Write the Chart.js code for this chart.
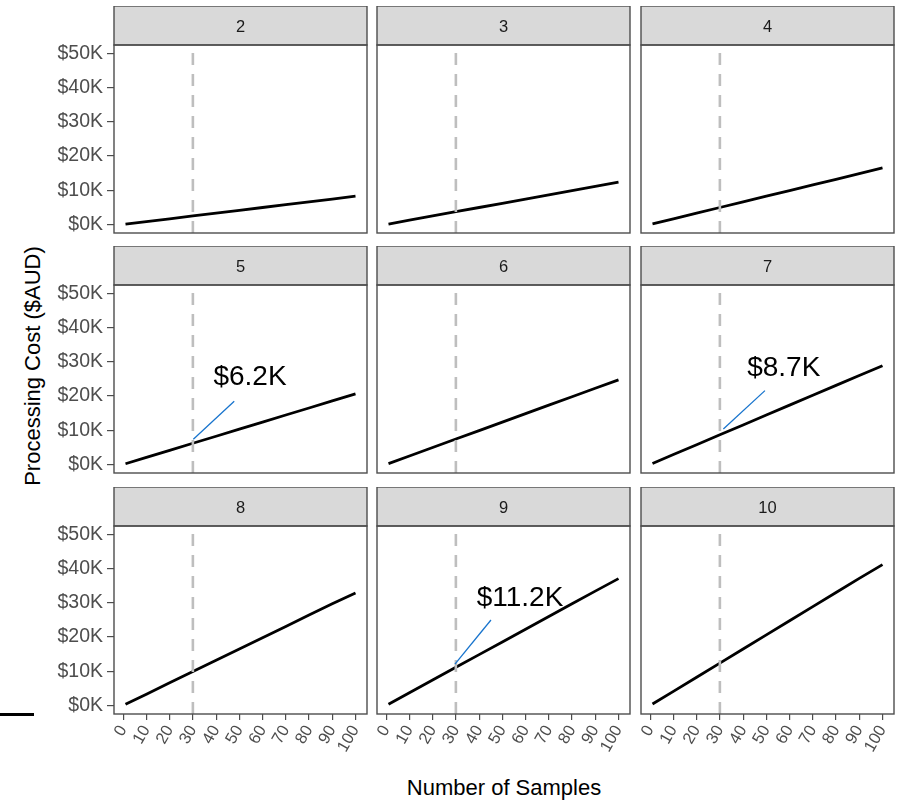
<!DOCTYPE html>
<html><head><meta charset="utf-8">
<script src="https://cdn.jsdelivr.net/npm/chart.js@4"></script>
<style>
html,body{margin:0;padding:0;background:#fff;}
#wrap{position:relative;width:907px;height:801px;overflow:hidden;background:#fff;}
#wrap canvas{position:absolute;}
.t{position:absolute;font-family:"Liberation Sans",Arial,sans-serif;color:#000;white-space:nowrap;line-height:1;}
</style></head><body><div id="wrap">
<div class="t" style="left:33px;top:366px;font-size:22px;transform:translate(-50%,-50%) rotate(-90deg);">Processing Cost ($AUD)</div>
<div class="t" style="left:504px;top:788px;font-size:22px;transform:translate(-50%,-50%);">Number of Samples</div>
<div style="position:absolute;left:0;top:713px;width:34px;height:2.5px;background:#000;"></div>
</div>
<script>
// ---- data ----
const panelNames = ['2','3','4','5','6','7','8','9','10'];
const sampleX = [1, 10, 20, 30, 40, 50, 60, 70, 80, 90, 100];
const cost2  = [  90,  830, 1650, 2480, 3300, 4130, 4960, 5780, 6610, 7430, 8300];
const cost3  = [ 130, 1240, 2480, 3720, 4960, 6200, 7430, 8670, 9910,11150,12400];
const cost4  = [ 170, 1650, 3300, 4960, 6610, 8260, 9910,11560,13220,14870,16550];
const cost5  = [ 210, 2070, 4130, 6200, 8260,10330,12390,14460,16520,18590,20650];
const cost6  = [ 250, 2480, 4960, 7430, 9910,12390,14870,17350,19820,22300,24750];
const cost7  = [ 290, 2890, 5780, 8700,11560,14460,17350,20240,23130,26020,28900];
const cost8  = [ 330, 3300, 6610, 9910,13220,16520,19820,23130,26430,29740,32900];
const cost9  = [ 370, 3720, 7430,11200,14870,18590,22300,26020,29740,33450,37100];
const cost10 = [ 410, 4130, 8260,12390,16520,20650,24780,28910,33040,37170,41200];
const costSeries = [cost2, cost3, cost4, cost5, cost6, cost7, cost8, cost9, cost10];
const xTicks = [0, 10, 20, 30, 40, 50, 60, 70, 80, 90, 100];
const xTickLabels = ['0','10','20','30','40','50','60','70','80','90','100'];
const yTicks = [0, 10000, 20000, 30000, 40000, 50000];
const yTickLabels = ['$0K','$10K','$20K','$30K','$40K','$50K'];
const cutoffX = 30;
// repel-style annotations (panel, label, label position, leader segment)
const annotPanel = ['5', '7', '9'];
const annotText  = ['$6.2K', '$8.7K', '$11.2K'];
const annotTextX = [54.6, 57.5, 57.6];
const annotTextY = [26300, 28900, 32000];
const segFromX = [30.2, 31.5, 29.6];
const segFromY = [7400, 10400, 12100];
const segToX   = [47.8, 49.4, 45.1];
const segToY   = [18500, 21600, 25000];

// ---- layout ----
const STRIP_H = 39, PLOT_H = 188, PLOT_W = 253;
const colLeft = [114, 377, 641];
const rowTop = [6, 246, 487];
const Y_AXIS_W = 114, X_AXIS_H = 52;
const FONT = '"Liberation Sans", Arial, sans-serif';

const facetPlugin = {
  id: 'facet',
  beforeDraw(chart, args, opts) {
    const {ctx, chartArea: a} = chart;
    const w = a.right - a.left;
    ctx.save();
    const top = a.top - STRIP_H;
    ctx.fillStyle = '#D9D9D9';
    ctx.fillRect(a.left, top, w, STRIP_H);
    ctx.strokeStyle = '#4D4D4D';
    ctx.lineWidth = 1.4;
    ctx.strokeRect(a.left, top, w, STRIP_H);
    ctx.fillStyle = '#1A1A1A';
    ctx.font = '16.5px ' + FONT;
    ctx.textAlign = 'center';
    ctx.textBaseline = 'alphabetic';
    ctx.fillText(opts.label, a.left + w / 2, top + STRIP_H / 2 + 6);
    ctx.restore();
  },
  afterDatasetsDraw(chart, args, opts) {
    if (opts.annot < 0) return;
    const {ctx, scales} = chart;
    const i = opts.annot;
    ctx.save();
    ctx.fillStyle = '#000';
    ctx.font = '28px ' + FONT;
    ctx.textAlign = 'center';
    ctx.textBaseline = 'alphabetic';
    ctx.fillText(annotText[i], scales.x.getPixelForValue(annotTextX[i]), scales.y.getPixelForValue(annotTextY[i]) + 10);
    ctx.restore();
  },
  afterDraw(chart) {
    const {ctx, chartArea: a} = chart;
    ctx.save();
    ctx.strokeStyle = '#4D4D4D';
    ctx.lineWidth = 1.4;
    ctx.strokeRect(a.left, a.top, a.right - a.left, a.bottom - a.top);
    ctx.restore();
  }
};

const wrap = document.getElementById('wrap');
panelNames.forEach((name, p) => {
  const r = Math.floor(p / 3), c = p % 3;
  const showX = r === 2, showY = c === 0;
  const padL = showY ? 0 : 2, padR = 2;
  const canvas = document.createElement('canvas');
  const cw = (showY ? Y_AXIS_W : padL) + PLOT_W + padR;
  const ch = STRIP_H + PLOT_H + (showX ? X_AXIS_H : 2);
  canvas.width = cw; canvas.height = ch;
  canvas.style.width = cw + 'px'; canvas.style.height = ch + 'px';
  canvas.style.left = (showY ? 0 : colLeft[c] - padL) + 'px';
  canvas.style.top = (rowTop[r]) + 'px';
  wrap.appendChild(canvas);

  const ai = annotPanel.indexOf(name);
  const datasets = [];
  if (ai >= 0) {
    datasets.push({
      data: [{x: segFromX[ai], y: segFromY[ai]}, {x: segToX[ai], y: segToY[ai]}],
      borderColor: '#1874CD', borderWidth: 1.3, pointRadius: 0
    });
  }
  datasets.push({
    data: [{x: cutoffX, y: -2500}, {x: cutoffX, y: 52500}],
    borderColor: '#BEBEBE', borderWidth: 2.6, borderDash: [12, 9], pointRadius: 0
  });
  datasets.push({
    data: sampleX.map((x, i) => ({x, y: costSeries[p][i]})),
    borderColor: '#000000', borderWidth: 2.8, pointRadius: 0, tension: 0
  });

  new Chart(canvas, {
    type: 'line',
    data: {datasets},
    plugins: [facetPlugin],
    options: {
      responsive: false, animation: false, devicePixelRatio: 1,
      layout: {padding: {top: STRIP_H, left: padL, right: padR, bottom: showX ? 0 : 2}},
      plugins: {legend: {display: false}, tooltip: {enabled: false}, facet: {label: name, annot: ai}},
      scales: {
        x: {
          type: 'linear', min: -3.95, max: 104.95, display: showX,
          afterBuildTicks: s => { s.ticks = xTicks.map(v => ({value: v})); },
          afterFit: s => { s.height = showX ? X_AXIS_H : 0; s.paddingLeft = 0; s.paddingRight = 0; },
          grid: {drawOnChartArea: false, drawTicks: true, tickLength: 6, color: '#4D4D4D', lineWidth: 1.2},
          border: {display: false},
          ticks: {autoSkip: false, minRotation: 60, maxRotation: 60, padding: 2, color: '#4D4D4D',
                  font: {family: FONT, size: 16.5}, callback: (v, i) => xTickLabels[i]}
        },
        y: {
          type: 'linear', min: -2500, max: 52500, display: showY,
          afterBuildTicks: s => { s.ticks = yTicks.map(v => ({value: v})); },
          afterFit: s => { s.width = showY ? Y_AXIS_W : 0; s.paddingTop = 0; s.paddingBottom = 0; },
          grid: {drawOnChartArea: false, drawTicks: true, tickLength: 7, color: '#4D4D4D', lineWidth: 1.2},
          border: {display: false},
          ticks: {autoSkip: false, padding: 4, color: '#4D4D4D',
                  font: {family: FONT, size: 19.5}, callback: (v, i) => yTickLabels[i]}
        }
      }
    }
  });
});
</script>
</body></html>
